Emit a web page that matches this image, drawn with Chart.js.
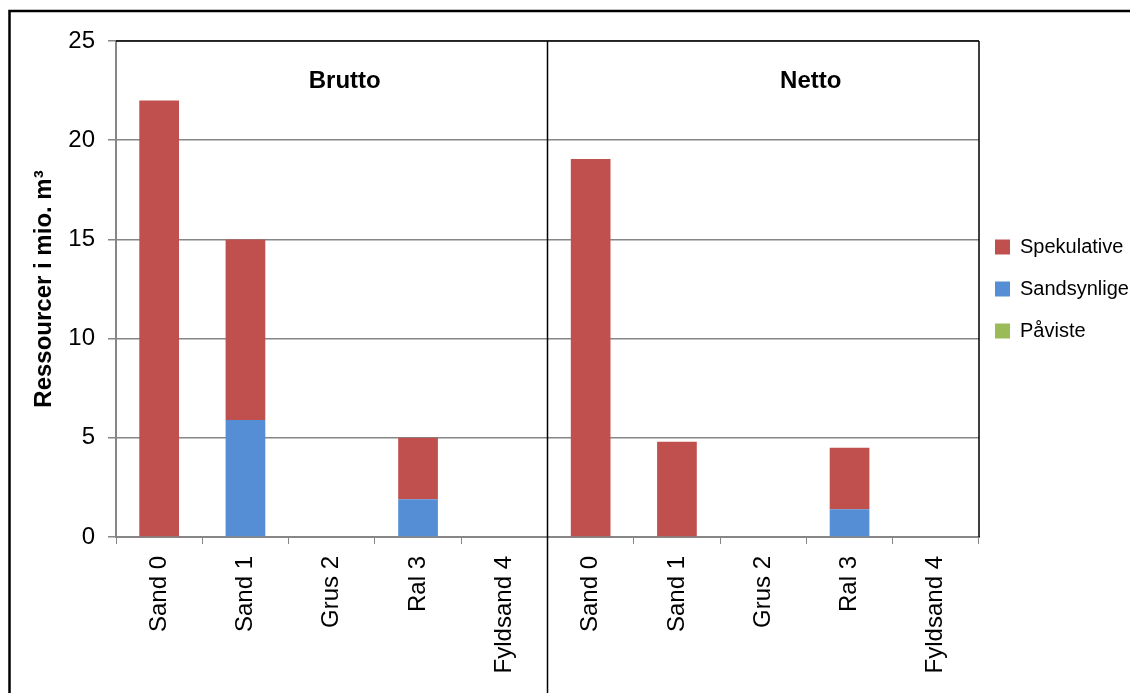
<!DOCTYPE html>
<html>
<head>
<meta charset="utf-8">
<script src="https://cdn.jsdelivr.net/npm/chart.js@4/dist/chart.umd.min.js"></script>
<style>
  html, body { margin: 0; padding: 0; background: #fff; }
  #wrap { width: 1130px; height: 693px; }
</style>
</head>
<body>
<div id="wrap"><canvas id="myChart" width="1130" height="693"></canvas></div>
<script>
// categories for the two panels (Brutto, Netto)
var categories = ['Sand 0', 'Sand 1', 'Grus 2', 'Ral 3', 'Fyldsand 4',
                  'Sand 0', 'Sand 1', 'Grus 2', 'Ral 3', 'Fyldsand 4']
var panelTitles = ['Brutto', 'Netto']

// series values, mio. m3
var paviste     = [0, 0,   0, 0,   0, 0,     0,   0, 0,   0]
var sandsynlige = [0, 5.9, 0, 1.9, 0, 0,     0,   0, 1.4, 0]
var spekulative = [22, 9.1, 0, 3.1, 0, 19.05, 4.8, 0, 3.1, 0]

var yMin = 0, yMax = 25, yStep = 5
var yTitle = 'Ressourcer i mio. m³'

var FONT = 'Liberation Sans, Arial, sans-serif'

var decorations = {
  id: 'decorations',
  beforeDraw: function (chart) {
    // put the legend beside the plot, centred on the plot height
    var lg = chart.legend
    lg.left = 973
    lg.top = chart.chartArea.top
    lg.bottom = chart.chartArea.bottom
  },
  afterDraw: function (chart) {
    var c = chart.ctx
    var area = chart.chartArea
    var x = chart.scales.x
    c.save()
    // outer frame
    c.strokeStyle = '#000'
    c.lineWidth = 2.5
    c.strokeRect(9.5, 11, 1300, 900)
    // plot top and right edge
    c.lineWidth = 1.5
    c.beginPath()
    c.moveTo(area.left, area.top)
    c.lineTo(area.right, area.top)
    c.moveTo(area.right, area.top)
    c.lineTo(area.right, area.bottom)
    c.stroke()
    // divider between Brutto and Netto
    var mid = (x.getPixelForValue(4) + x.getPixelForValue(5)) / 2
    c.beginPath()
    c.moveTo(mid, area.top)
    c.lineTo(mid, chart.height)
    c.stroke()
    // panel titles
    c.fillStyle = '#000'
    c.font = 'bold 24px ' + FONT
    c.textAlign = 'center'
    c.textBaseline = 'middle'
    c.fillText(panelTitles[0], area.left + area.width * 0.265, 81)
    c.fillText(panelTitles[1], area.left + area.width * 0.805, 81)
    c.restore()
  }
}

var ctx = document.getElementById('myChart').getContext('2d')
var myChart = new Chart(ctx, {
  type: 'bar',
  data: {
    labels: categories,
    datasets: [
      { label: 'Påviste', data: paviste, backgroundColor: '#9BBB59' },
      { label: 'Sandsynlige', data: sandsynlige, backgroundColor: '#558ED5' },
      { label: 'Spekulative', data: spekulative, backgroundColor: '#C0504D' },
    ],
  },
  options: {
    responsive: false,
    animation: false,
    barPercentage: 0.46,
    categoryPercentage: 1,
    layout: { padding: { top: 41, left: 0, right: 0, bottom: 0 } },
    plugins: {
      legend: {
        position: 'right',
        reverse: true,
        maxWidth: 151,
        labels: {
          boxWidth: 15,
          boxHeight: 15,
          padding: 22,
          color: '#000',
          font: { family: FONT, size: 20 },
        },
      },
      tooltip: { enabled: false },
    },
    scales: {
      x: {
        stacked: true,
        afterFit: function (s) { s.height = 156 },
        grid: { display: true, drawOnChartArea: false, color: '#868686', tickLength: 7 },
        border: { color: '#868686', width: 2 },
        ticks: {
          autoSkip: false,
          minRotation: 90,
          maxRotation: 90,
          padding: 12,
          color: '#000',
          font: { family: FONT, size: 24 },
        },
      },
      y: {
        stacked: true,
        min: yMin,
        max: yMax,
        afterFit: function (s) { s.width = 116 },
        grid: { color: '#868686', lineWidth: 1.5, tickLength: 8 },
        border: { color: '#868686', width: 2 },
        ticks: {
          stepSize: yStep,
          padding: 13,
          color: '#000',
          font: { family: FONT, size: 24 },
        },
        title: {
          display: true,
          text: yTitle,
          color: '#000',
          padding: { top: 30, bottom: 0 },
          font: { family: FONT, size: 24, weight: 'bold' },
        },
      },
    },
  },
  plugins: [decorations],
})
</script>
</body>
</html>
